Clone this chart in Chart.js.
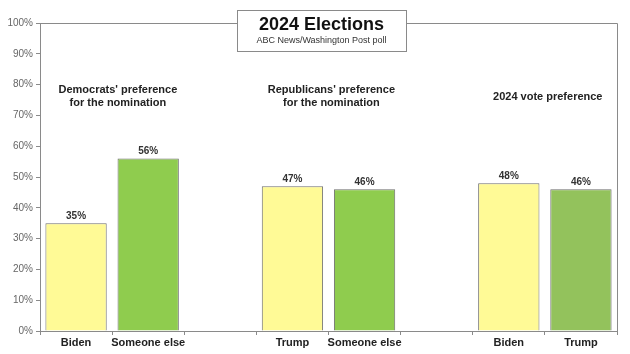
<!DOCTYPE html>
<html>
<head>
<meta charset="utf-8">
<script src="https://cdn.jsdelivr.net/npm/chart.js@4/dist/chart.umd.min.js"></script>
<style>
  html, body { margin: 0; padding: 0; background: #fff; }
  #wrap { width: 630px; height: 354px; position: relative; }
</style>
</head>
<body>
<div id="wrap"><canvas id="chart"></canvas></div>
<script>
// categories (blank slots separate the three groups)
const categories = ['Biden', 'Someone else', '', 'Trump', 'Someone else', '', 'Biden', 'Trump'];
const values = [35, 56, null, 47, 46, null, 48, 46];
const barColors = ['#fffa96', '#8fcc4e', null, '#fffa96', '#8fcc4e', null, '#fffa96', '#93c25c'];
const groupTitles = [
    ["Democrats' preference", 'for the nomination'],
    ["Republicans' preference", 'for the nomination'],
    ['2024 vote preference']
];
const groupCenters = [0.58, 3.54, 6.54];
const groupLevels = [76, 76, 76];
const yTicks = [0, 10, 20, 30, 40, 50, 60, 70, 80, 90, 100];

const FONT = '"Liberation Sans", Arial, sans-serif';

const overlay = {
    id: 'overlay',
    afterDatasetsDraw(chart) {
        const { ctx, chartArea, scales } = chart;
        const xs = scales.x, ys = scales.y;
        ctx.save();
        // frame: top and right
        ctx.strokeStyle = '#8a8a8a';
        ctx.lineWidth = 1;
        ctx.beginPath();
        ctx.moveTo(chartArea.left, chartArea.top + 0.5);
        ctx.lineTo(chartArea.right + 0.5, chartArea.top + 0.5);
        ctx.lineTo(chartArea.right + 0.5, chartArea.bottom);
        ctx.stroke();

        // value labels
        const meta = chart.getDatasetMeta(0);
        ctx.fillStyle = '#333';
        ctx.font = 'bold 10px ' + FONT;
        ctx.textAlign = 'center';
        ctx.textBaseline = 'bottom';
        meta.data.forEach((bar, i) => {
            if (values[i] == null) return;
            ctx.fillText(values[i] + '%', bar.x, bar.y - 2);
        });

        // group titles
        ctx.fillStyle = '#222';
        ctx.font = 'bold 11px ' + FONT;
        ctx.textBaseline = 'middle';
        groupTitles.forEach((lines, g) => {
            const x = xs.getPixelForValue(groupCenters[g]);
            const y0 = ys.getPixelForValue(groupLevels[g]);
            const h = 13;
            lines.forEach((t, k) => {
                ctx.fillText(t, x, y0 + (k - (lines.length - 1) / 2) * h);
            });
        });

        // title box
        const bx = 237, by = 10, bw = 169, bh = 41;
        ctx.fillStyle = '#fff';
        ctx.fillRect(bx, by, bw, bh);
        ctx.strokeStyle = '#8a8a8a';
        ctx.strokeRect(bx + 0.5, by + 0.5, bw, bh);
        ctx.fillStyle = '#111';
        ctx.font = 'bold 18px ' + FONT;
        ctx.fillText('2024 Elections', bx + bw / 2, by + 15);
        ctx.fillStyle = '#333';
        ctx.font = '9px ' + FONT;
        ctx.fillText('ABC News/Washington Post poll', bx + bw / 2, by + 31);
        ctx.restore();
    }
};

new Chart(document.getElementById('chart'), {
    type: 'bar',
    data: {
        labels: categories,
        datasets: [{
            data: values,
            backgroundColor: barColors,
            borderColor: '#6e6e6e',
            borderWidth: 1,
            barPercentage: 0.85,
            categoryPercentage: 1.0
        }]
    },
    options: {
        responsive: true,
        maintainAspectRatio: false,
        animation: false,
        layout: { padding: { top: 23, right: 13, left: 0, bottom: 0 } },
        plugins: { legend: { display: false }, tooltip: { enabled: false } },
        scales: {
            x: {
                afterFit: (s) => { s.height = 23; },
                grid: {
                    offset: true,
                    drawOnChartArea: false,
                    tickLength: 4,
                    color: '#8a8a8a'
                },
                border: { color: '#8a8a8a' },
                ticks: {
                    color: '#222',
                    font: { family: FONT, size: 11, weight: 'bold' },
                    padding: 1,
                    maxRotation: 0,
                    autoSkip: false
                }
            },
            y: {
                min: 0,
                max: 100,
                afterFit: (s) => { s.width = 40; },
                afterBuildTicks: (s) => { s.ticks = yTicks.map(v => ({ value: v })); },
                grid: {
                    drawOnChartArea: false,
                    tickLength: 4,
                    color: '#8a8a8a'
                },
                border: { color: '#8a8a8a' },
                ticks: {
                    color: '#666',
                    font: { family: FONT, size: 10 },
                    padding: 3,
                    callback: (v) => v + '%'
                }
            }
        }
    },
    plugins: [overlay]
});
</script>
</body>
</html>
